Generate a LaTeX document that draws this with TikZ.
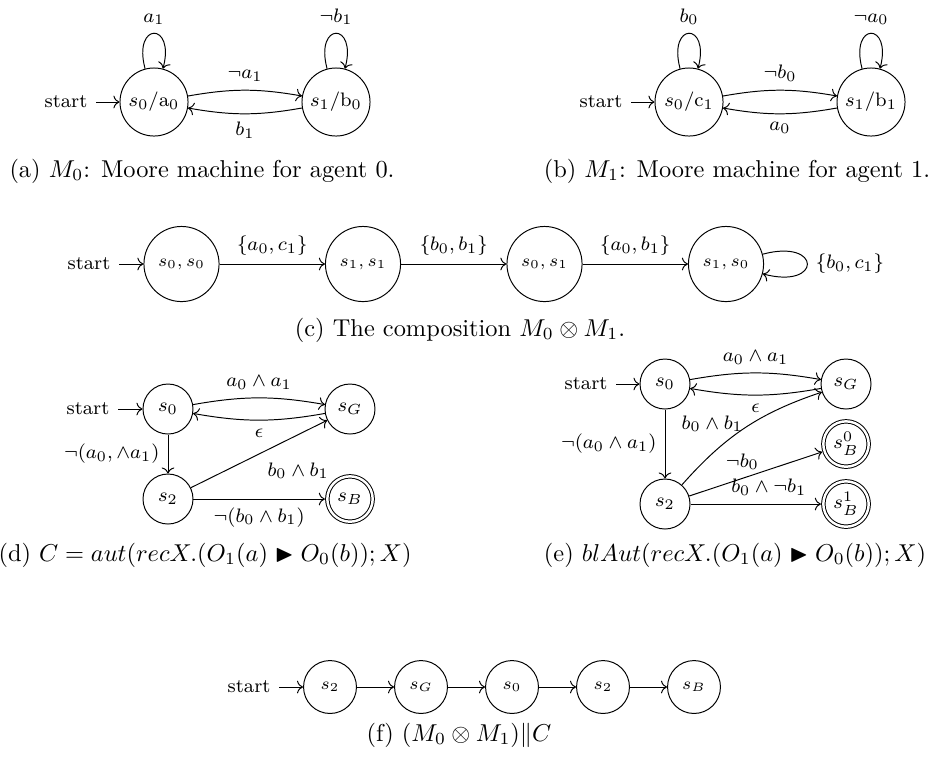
\documentclass[tikz,border=0pt]{standalone}
\usepackage{amsmath}
\usepackage{amssymb}
\usepackage{tikz}
\usetikzlibrary{arrows, arrows.meta}
\tikzset{
  moorestate/.style={circle, draw, minimum size=27.9pt, inner sep=1pt},
  prodstate/.style={circle, draw, minimum size=30.8pt, inner sep=1pt, font=\scriptsize},
  ctrlstate/.style={circle, draw, minimum size=20.5pt, inner sep=1pt},
  accstate/.style={ctrlstate, double, double distance=1pt, minimum size=18.6pt, outer sep=1pt},
  runstate/.style={circle, draw, minimum size=21.7pt, inner sep=1pt, font=\scriptsize},
  subcap/.style={font=\normalsize},
}

\begin{document}
\begin{tikzpicture}[x=0.41pt, y=0.41pt, font=\footnotesize]
\useasboundingbox (0,0) rectangle (933,-762);

% (a) Moore machine of agent 0
\begin{scope}
\node[moorestate] (p) at (154,-102) {$s_0/\mathrm{a}_0$};
\node[moorestate] (q) at (336,-102) {$s_1/\mathrm{b}_0$};
\node[anchor=east] (init) at (96,-102) {start};

\draw[->] (init)--(p);
\draw[->] (p) to[loop above, looseness=7] node[above] {$a_1$} (p);
\draw[->] (q) to[loop above, looseness=7] node[above] {$\neg b_1$} (q);
\draw[->] (p) to[bend left=10] node[above] {$\neg a_1$} (q);
\draw[->] (q) to[bend left=10] node[below] {$b_1$} (p);

\node[subcap] (cap) at (202,-171) {(a) $M_0$: Moore machine for agent 0.};
\end{scope}

% (b) Moore machine of agent 1
\begin{scope}[shift={(535,0)}]
\node[moorestate] (p) at (154,-102) {$s_0/\mathrm{c}_1$};
\node[moorestate] (q) at (336,-102) {$s_1/\mathrm{b}_1$};
\node[anchor=east] (init) at (96,-102) {start};

\draw[->] (init)--(p);
\draw[->] (p) to[loop above, looseness=7] node[above] {$b_0$} (p);
\draw[->] (q) to[loop above, looseness=7] node[above] {$\neg a_0$} (q);
\draw[->] (p) to[bend left=10] node[above] {$\neg b_0$} (q);
\draw[->] (q) to[bend left=10] node[below] {$a_0$} (p);

\node[subcap] (cap) at (202,-171) {(b) $M_1$: Moore machine for agent 1.};
\end{scope}

% (c) composition
\node[prodstate] (c1) at (181.5,-264) {$s_0, s_0$};
\node[prodstate] (c2) at (363,-264) {$s_1, s_1$};
\node[prodstate] (c3) at (544.5,-264) {$s_0, s_1$};
\node[prodstate] (c4) at (726,-264) {$s_1, s_0$};
\node[anchor=east] (initc) at (119,-264) {start};

\draw[->] (initc)--(c1);
\draw[->] (c1)--(c2) node[midway, above] {$\{a_0, c_1\}$};
\draw[->] (c2)--(c3) node[midway, above] {$\{b_0, b_1\}$};
\draw[->] (c3)--(c4) node[midway, above] {$\{a_0, b_1\}$};
\draw[->] (c4) to[loop right] node[right] {$\{b_0, c_1\}$} (c4);

\node[subcap] (capc) at (460,-330) {(c) The composition $M_0 \otimes M_1$.};

% (d) controller C
\begin{scope}
\node[ctrlstate] (d0) at (168,-409) {$s_0$};
\node[ctrlstate] (dG) at (350,-409) {$s_G$};
\node[ctrlstate] (d2) at (168,-499) {$s_2$};
\node[accstate] (dB) at (350,-499) {$s_B$};
\node[anchor=east] (initd) at (118,-409) {start};

\draw[->] (initd)--(d0);
\draw[->] (d0) to[bend left=10] node[above] {$a_0 \wedge a_1$} (dG);
\draw[->] (dG) to[bend left=10] node[below] {$\epsilon$} (d0);
\draw[->] (d0)--(d2) node[midway, left] {$\neg(a_0, \wedge a_1)$};
\draw[->] (d2)--(dG) node[midway, below right] {$b_0 \wedge b_1$};
\draw[->] (d2)--(dB) node[midway, below] {$\neg(b_0 \wedge b_1)$};

\node[subcap] (capd) at (205,-555) {(d) $C = aut(recX.(O_1(a) \blacktriangleright O_0(b));X)$};
\end{scope}

% (e) blocking automaton
\begin{scope}
\node[ctrlstate] (e0) at (665,-384) {$s_0$};
\node[ctrlstate] (eG) at (846,-384) {$s_G$};
\node[accstate] (eB0) at (846,-444) {$s_B^0$};
\node[accstate] (eB1) at (846,-504) {$s_B^1$};
\node[ctrlstate] (e2) at (665,-504) {$s_2$};
\node[anchor=east] (inite) at (616,-384) {start};

\draw[->] (inite)--(e0);
\draw[->] (e0) to[bend left=10] node[above] {$a_0 \wedge a_1$} (eG);
\draw[->] (eG) to[bend left=10] node[below] {$\epsilon$} (e0);
\draw[->] (e0)--(e2) node[midway, left] {$\neg(a_0 \wedge a_1)$};
\draw[->] (e2) to[bend left=15] node[pos=0.55, left] {$b_0 \wedge b_1$} (eG);
\draw[->] (e2)--(eB0) node[pos=0.4, above] {$\neg b_0$};
\draw[->] (e2)--(eB1) node[pos=0.6, above] {$b_0 \wedge \neg b_1$};

\node[subcap] (cape) at (735,-555) {(e) $blAut(recX.(O_1(a) \blacktriangleright O_0(b));X)$};
\end{scope}

% (f) a run of the product
\node[runstate] (r1) at (330,-687) {$s_2$};
\node[runstate] (r2) at (421,-687) {$s_G$};
\node[runstate] (r3) at (512,-687) {$s_0$};
\node[runstate] (r4) at (603,-687) {$s_2$};
\node[runstate] (r5) at (694,-687) {$s_B$};
\node[anchor=east] (initf) at (279,-687) {start};

\draw[->] (initf)--(r1);
\draw[->] (r1)--(r2);
\draw[->] (r2)--(r3);
\draw[->] (r3)--(r4);
\draw[->] (r4)--(r5);

\node[subcap] (capf) at (459,-735) {(f) $(M_0 \otimes M_1)\|C$};
\end{tikzpicture}
\end{document}
